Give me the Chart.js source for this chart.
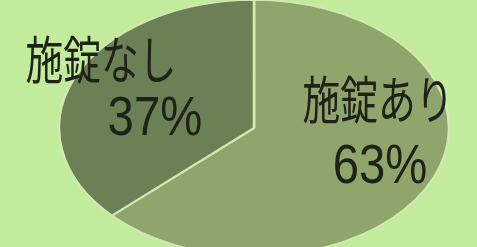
<!DOCTYPE html>
<html>
<head>
<meta charset="utf-8">
<script src="https://cdn.jsdelivr.net/npm/chart.js"></script>
<style>
  html, body { margin: 0; padding: 0; background: #c3eb9c; overflow: hidden; }
  #wrap { width: 477px; height: 247px; position: relative; }
</style>
</head>
<body>
<div id="wrap"><canvas id="lockChart" width="477" height="247"></canvas></div>
<script>
// --- Data ---
const categories = ['施錠あり', '施錠なし'];
const percentages = [63, 37];
const sliceColors = ['#8fa56b', '#6c8056'];

// pie is drawn as a flattened ellipse, like the original picture
const ELLIPSE_RX = 195;
const ELLIPSE_RY = 128;

// where each text line sits, as a fraction of the ellipse radii from the center
const labelLines = [
    [{ text: categories[0], dx: 0.636, dy: -0.219, cjk: true }, { text: percentages[0] + '%', dx: 0.646, dy: 0.3125 }],
    [{ text: categories[1], dx: -0.785, dy: -0.531, cjk: true }, { text: percentages[1] + '%', dx: -0.508, dy: -0.0625 }]
];

const ellipsePlugin = {
    id: 'ellipse',
    beforeDatasetsDraw(chart) {
        const arc = chart.getDatasetMeta(0).data[0];
        const ctx = chart.ctx;
        ctx.save();
        ctx.translate(arc.x, arc.y);
        ctx.scale(ELLIPSE_RX / arc.outerRadius, ELLIPSE_RY / arc.outerRadius);
        ctx.translate(-arc.x, -arc.y);
    },
    afterDatasetsDraw(chart) {
        chart.ctx.restore();
    },
    afterDraw(chart) {
        const arc = chart.getDatasetMeta(0).data[0];
        const ctx = chart.ctx;
        ctx.save();
        ctx.fillStyle = '#1e2318';
        ctx.textAlign = 'center';
        ctx.textBaseline = 'middle';
        labelLines.forEach(lines => {
            lines.forEach(line => {
                const x = arc.x + line.dx * ELLIPSE_RX;
                const y = arc.y + line.dy * ELLIPSE_RY;
                ctx.save();
                ctx.translate(x, y);
                if (line.cjk) {
                    ctx.font = '51px "Noto Sans CJK JP"';
                    ctx.scale(0.74, 1);
                } else {
                    ctx.font = '55px "Liberation Sans"';
                    ctx.scale(0.86, 1);
                }
                ctx.fillText(line.text, 0, 0);
                ctx.restore();
            });
        });
        ctx.restore();
    }
};

new Chart(document.getElementById('lockChart'), {
    type: 'pie',
    data: {
        labels: categories,
        datasets: [{
            data: percentages,
            backgroundColor: sliceColors,
            borderColor: '#d0e9b2',
            borderWidth: 1.6,
            clip: false
        }]
    },
    options: {
        responsive: false,
        animation: false,
        rotation: 0,
        layout: { padding: { top: 9, bottom: 0, left: 31, right: 0 } },
        plugins: {
            legend: { display: false },
            tooltip: { enabled: false }
        }
    },
    plugins: [ellipsePlugin]
});
</script>
</body>
</html>
